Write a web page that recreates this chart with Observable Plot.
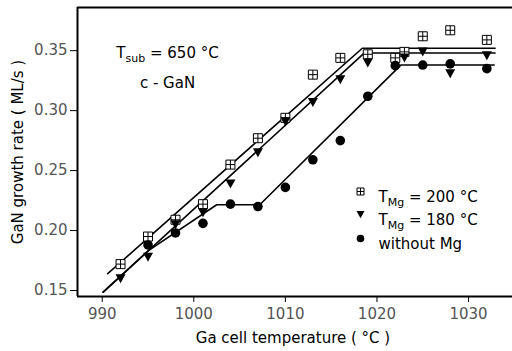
<!DOCTYPE html>
<html><head><meta charset="utf-8">
<script src="https://cdn.jsdelivr.net/npm/d3@7"></script>
<script src="https://cdn.jsdelivr.net/npm/@observablehq/plot@0.6"></script>
<style>html,body{margin:0;padding:0;background:#fff}</style>
</head><body><div id="chart"></div>
<script>
// ---- data ----
const temps200 = [992, 995, 998, 1001, 1004, 1007, 1010, 1013, 1016, 1019, 1022, 1023, 1025, 1028, 1032];
const rate200  = [0.172, 0.195, 0.209, 0.222, 0.255, 0.277, 0.294, 0.330, 0.344, 0.347, 0.344, 0.349, 0.362, 0.367, 0.359];
const temps180 = [992, 995, 998, 1001, 1004, 1007, 1010, 1013, 1016, 1019, 1023, 1025, 1028, 1032];
const rate180  = [0.160, 0.178, 0.205, 0.215, 0.239, 0.265, 0.291, 0.307, 0.326, 0.340, 0.344, 0.349, 0.331, 0.346];
const tempsNoMg = [995, 998, 1001, 1004, 1007, 1010, 1013, 1016, 1019, 1022, 1025, 1028, 1032];
const rateNoMg  = [0.188, 0.198, 0.206, 0.222, 0.220, 0.236, 0.259, 0.275, 0.312, 0.3375, 0.338, 0.339, 0.335];
// fitted guide lines
const fit200X = [990.6, 1018.4, 1032.9];
const fit200Y = [0.164, 0.352, 0.352];
const fit180X = [990.1, 1018.6, 1032.9];
const fit180Y = [0.1486, 0.348, 0.348];
const fitNoMgX = [990.1, 995.0, 1002.5, 1007.2, 1022.6, 1032.8];
const fitNoMgY = [0.1486, 0.183, 0.2215, 0.2215, 0.338, 0.338];
// axes
const xTicks = [990, 1000, 1010, 1020, 1030];
const yTicks = [0.15, 0.20, 0.25, 0.30, 0.35];
const xDomain = [987.3, 1034.8];
const yDomain = [0.145, 0.386];
const xLabel = "Ga cell temperature ( °C )";
const yLabel = "GaN growth rate ( ML/s )";
const notes = ["T_{sub} = 650 °C", "c - GaN"];
const legendLabels = ["T_{Mg} = 200 °C", "T_{Mg} = 180 °C", "without Mg"];

const pts = (xs, ys) => xs.map((x, i) => ({x, y: ys[i]}));

const squarePlus = {draw(ctx, size) {
  const s = Math.sqrt(size) / 2;
  ctx.moveTo(-s, -s); ctx.lineTo(s, -s); ctx.lineTo(s, s); ctx.lineTo(-s, s); ctx.closePath();
  ctx.moveTo(-s, 0); ctx.lineTo(s, 0); ctx.moveTo(0, -s); ctx.lineTo(0, s);
}};
const triDown = {draw(ctx, size) {
  const s = Math.sqrt(size) / 2;
  ctx.moveTo(-s, -s * 0.85); ctx.lineTo(s, -s * 0.85); ctx.lineTo(0, s * 0.95); ctx.closePath();
}};

const rSq = Math.sqrt(81 / Math.PI), rTri = Math.sqrt(100 / Math.PI);
const rSqL = Math.sqrt(49 / Math.PI), rTriL = Math.sqrt(64 / Math.PI);

const ML = 77, MT = 7;
const legX = 360 - ML, legY = [191 - MT, 214 - MT, 238 - MT];

const svg = Plot.plot({
  width: 512, height: 351,
  marginLeft: ML, marginRight: 0, marginTop: MT, marginBottom: 55,
  style: {fontFamily: "DejaVu Sans", fontSize: "15px", background: "white", color: "black"},
  x: {domain: xDomain},
  y: {domain: yDomain},
  marks: [
    Plot.axisX({ticks: xTicks, tickSize: 6, tickPadding: 6, tickFormat: d => String(d), label: null, fill: "#555", stroke: "black"}),
    Plot.axisY({ticks: yTicks, tickSize: 7, tickPadding: 3, tickFormat: d => d.toFixed(2), label: null, fill: "#555", stroke: "black"}),
    Plot.ruleX([xDomain[0]], {strokeWidth: 2}),
    Plot.ruleY([yDomain[0]], {strokeWidth: 2}),
    Plot.ruleY([yDomain[1]], {strokeWidth: 2}),
    Plot.line(pts(fit200X, fit200Y), {x: "x", y: "y", stroke: "black", strokeWidth: 1.6}),
    Plot.line(pts(fit180X, fit180Y), {x: "x", y: "y", stroke: "black", strokeWidth: 1.6}),
    Plot.line(pts(fitNoMgX, fitNoMgY), {x: "x", y: "y", stroke: "black", strokeWidth: 1.6}),
    Plot.dot(pts(temps200, rate200), {x: "x", y: "y", symbol: squarePlus, r: rSq, fill: "white", stroke: "black", strokeWidth: 1}),
    Plot.dot(pts(temps180, rate180), {x: "x", y: "y", symbol: triDown, r: rTri, fill: "black", stroke: "none"}),
    Plot.dot(pts(tempsNoMg, rateNoMg), {x: "x", y: "y", symbol: "circle", r: 4.8, fill: "black", stroke: "none"}),
    // annotations
    Plot.text([notes[0]], {frameAnchor: "top-left", dx: 167 - ML, dy: 47 - MT, textAnchor: "middle", fill: "black"}),
    Plot.text([notes[1]], {frameAnchor: "top-left", dx: 167 - ML, dy: 77 - MT, textAnchor: "middle", fill: "black"}),
    // legend
    Plot.dot([legendLabels[0]], {frameAnchor: "top-left", dx: legX, dy: legY[0], symbol: squarePlus, r: rSqL, fill: "white", stroke: "black", strokeWidth: 1}),
    Plot.dot([legendLabels[1]], {frameAnchor: "top-left", dx: legX, dy: legY[1], symbol: triDown, r: rTriL, fill: "black", stroke: "none"}),
    Plot.dot([legendLabels[2]], {frameAnchor: "top-left", dx: legX, dy: legY[2], symbol: "circle", r: 3.8, fill: "black", stroke: "none"}),
    ...legendLabels.map((lab, i) => Plot.text([lab], {frameAnchor: "top-left", dx: 378 - ML, dy: legY[i], textAnchor: "start", fill: "black"})),
    // axis titles
    Plot.text([xLabel], {frameAnchor: "bottom", dx: -2, dy: 46, fill: "black"}),
    Plot.text([yLabel], {frameAnchor: "left", rotate: -90, dx: -59, textAnchor: "middle", fill: "black"})
  ]
});

// subscripts
const NS = "http://www.w3.org/2000/svg";
svg.querySelectorAll("text").forEach(t => {
  const m = t.textContent.match(/^(.*?)_\{(.*?)\}(.*)$/);
  if (!m) return;
  t.textContent = "";
  const a = document.createElementNS(NS, "tspan"); a.textContent = m[1];
  const b = document.createElementNS(NS, "tspan"); b.textContent = m[2];
  b.setAttribute("font-size", "11"); b.setAttribute("dy", "4");
  const c = document.createElementNS(NS, "tspan"); c.textContent = m[3]; c.setAttribute("dy", "-4");
  t.append(a, b, c);
});
document.getElementById("chart").append(svg);
</script>
</body></html>
